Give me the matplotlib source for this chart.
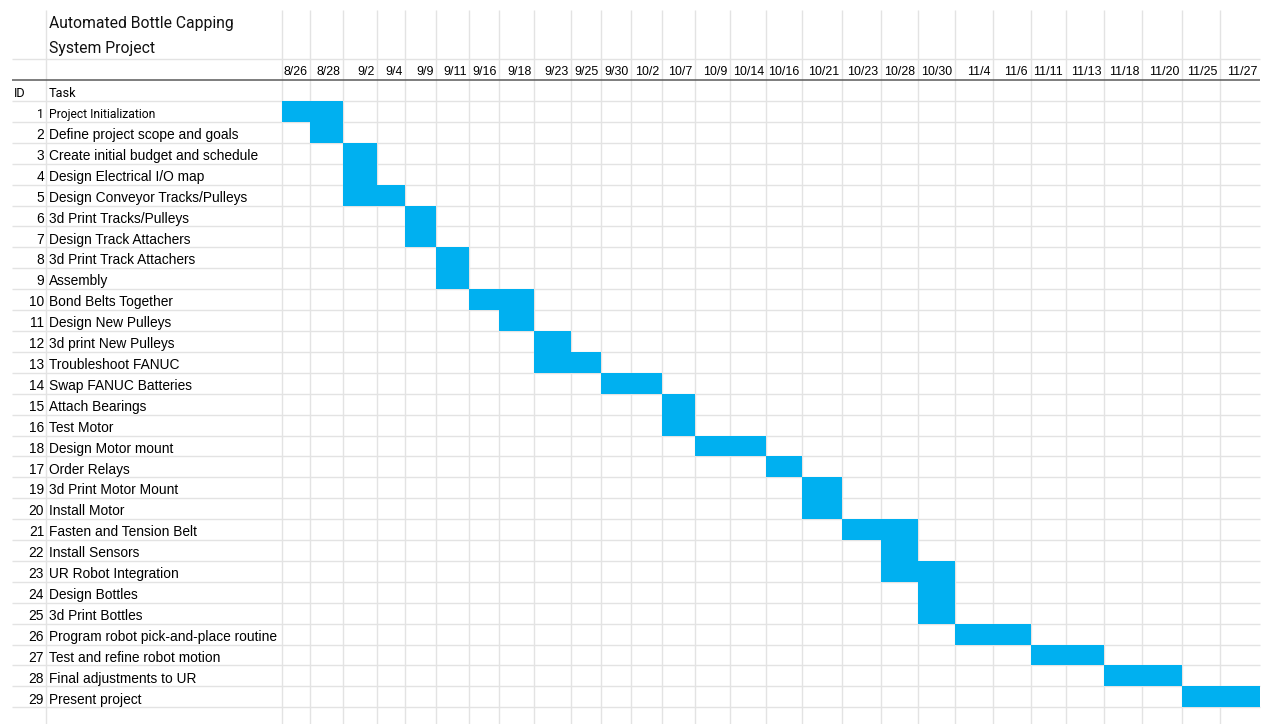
import numpy as np
import matplotlib
matplotlib.use("Agg")
import matplotlib.pyplot as plt

# ---- data -------------------------------------------------------------
title_lines = ["Automated Bottle Capping", "System Project"]

date_labels = ["8/26", "8/28", "9/2", "9/4", "9/9", "9/11", "9/16", "9/18",
               "9/23", "9/25", "9/30", "10/2", "10/7", "10/9", "10/14",
               "10/16", "10/21", "10/23", "10/28", "10/30", "11/4", "11/6",
               "11/11", "11/13", "11/18", "11/20", "11/25", "11/27"]

task_ids = [1, 2, 3, 4, 5, 6, 7, 8, 9, 10, 11, 12, 13, 14, 15, 16, 18, 17,
            19, 20, 21, 22, 23, 24, 25, 26, 27, 28, 29]

task_names = ["Project Initialization",
              "Define project scope and goals",
              "Create initial budget and schedule",
              "Design Electrical I/O map",
              "Design Conveyor Tracks/Pulleys",
              "3d Print Tracks/Pulleys",
              "Design Track Attachers",
              "3d Print Track Attachers",
              "Assembly",
              "Bond Belts Together",
              "Design New Pulleys",
              "3d print New Pulleys",
              "Troubleshoot FANUC",
              "Swap FANUC Batteries",
              "Attach Bearings",
              "Test Motor",
              "Design Motor mount",
              "Order Relays",
              "3d Print Motor Mount",
              "Install Motor",
              "Fasten and Tension Belt",
              "Install Sensors",
              "UR Robot Integration",
              "Design Bottles",
              "3d Print Bottles",
              "Program robot pick-and-place routine",
              "Test and refine robot motion",
              "Final adjustments to UR",
              "Present project"]

# first and last date column (inclusive) that each task occupies
start_col = [0, 1, 2, 2, 2, 4, 4, 5, 5, 6, 7, 8, 8, 10, 12, 12, 13, 15, 16,
             16, 17, 18, 18, 19, 19, 20, 22, 24, 26]
end_col = [1, 1, 2, 2, 3, 4, 4, 5, 5, 7, 7, 8, 9, 11, 12, 12, 14, 15, 16,
           16, 18, 18, 19, 19, 19, 21, 23, 25, 27]

# ---- sheet layout (column widths / row height in pixels) --------------
margin_w, id_w, task_w = 12.0, 34.0, 236.3
date_col_w = [28, 33, 34, 28, 31, 33, 30, 35, 37, 30, 29.4, 31.6, 33, 35,
              36, 35.4, 40.6, 38.2, 37.5, 37, 38.3, 37.2, 35.2, 38.3, 38.3,
              39.4, 38.3, 40]
right_pad = 5.0
row_h = 20.907
first_task_top = 101.0
W, H = 1265, 724

BAR = "#00B0F0"
GRID = "#e3e3e3"
RULE = "#5a5a5a"
HEAD_FONT = ["Roboto", "DejaVu Sans"]
CELL_FONT = ["Liberation Sans", "DejaVu Sans"]

# column index -> pixel mapping (-3 = sheet edge, 0 = first date column)
col_idx = np.arange(-3, len(date_col_w) + 2, dtype=float)
col_px = np.concatenate([[0.0, margin_w, margin_w + id_w,
                          margin_w + id_w + task_w],
                         margin_w + id_w + task_w + np.cumsum(date_col_w),
                         [W]])
col_px[-1] = col_px[-2] + right_pad


def fwd(x):
    return np.interp(x, col_idx, col_px)


def inv(p):
    return np.interp(p, col_px, col_idx)


fig = plt.figure(figsize=(W / 100, H / 100), dpi=100)
ax = fig.add_axes([0, 0, 1, 1])
ax.set_xscale("function", functions=(fwd, inv))
ax.set_xlim(col_idx[0], col_idx[-1])
y_top = -first_task_top / row_h
y_bot = (H - first_task_top) / row_h
ax.set_ylim(y_bot, y_top)
ax.axis("off")

n_cols = len(date_labels)
n_rows = len(task_names)
grid_top = y_top + 10.0 / row_h

# sheet gridlines
ax.vlines(np.arange(-1, n_cols), grid_top, y_bot, color=GRID, lw=1.0,
          zorder=1)
ax.hlines([-2] + list(range(0, n_rows + 1)), -2, n_cols, color=GRID,
          lw=1.0, zorder=1)
ax.hlines(-1, -2, n_cols, color=RULE, lw=1.1, zorder=3)

# task bars
starts = np.array(start_col)
ends = np.array(end_col)
ax.barh(np.arange(n_rows) + 0.5, ends - starts + 1, left=starts, height=1.0,
        color=BAR, edgecolor="none", zorder=2)

# title
for k, line in enumerate(title_lines):
    ax.annotate(line, (-1, -2),
                xytext=(3, 5.9 + 25 * (len(title_lines) - 1 - k)),
                textcoords="offset pixels", ha="left", va="baseline",
                fontsize=11.3, family=HEAD_FONT, color="#111111")

# header row
ax.annotate("ID", (-2, 0), xytext=(1.5, 4.3), textcoords="offset pixels",
            ha="left", va="baseline", fontsize=9.2, family=HEAD_FONT)
ax.annotate("Task", (-1, 0), xytext=(3, 4.3), textcoords="offset pixels",
            ha="left", va="baseline", fontsize=9.2, family=HEAD_FONT)

# date labels
for i, lab in enumerate(date_labels):
    ax.annotate(lab, (i + 1, -1), xytext=(-2.5, 5), textcoords="offset pixels",
                ha="right", va="baseline", fontsize=8.9, family=CELL_FONT)

# task rows
for r, (tid, name) in enumerate(zip(task_ids, task_names)):
    if r == 0:
        kw = dict(fontsize=8.7, family=HEAD_FONT)
    else:
        kw = dict(fontsize=9.9, family=CELL_FONT)
    kw.update(textcoords="offset pixels", va="baseline", color="#000000")
    ax.annotate(str(tid), (-1, r + 1), xytext=(-2, 3.8), ha="right", **kw)
    ax.annotate(name, (-1, r + 1), xytext=(3, 3.8), ha="left", **kw)

fig.savefig("out.png", dpi=100, facecolor="white")
